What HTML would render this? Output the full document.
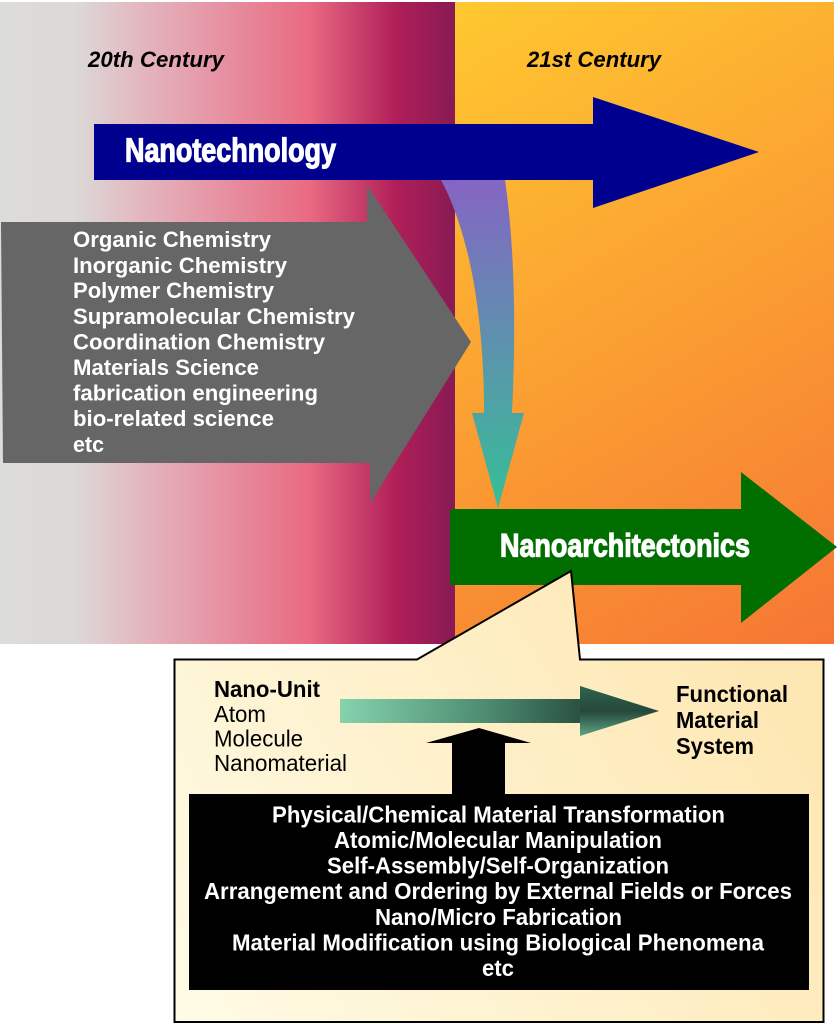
<!DOCTYPE html>
<html><head><meta charset="utf-8"><style>html,body{margin:0;padding:0;background:#fff}svg{display:block}text{font-family:"Liberation Sans",Arial,sans-serif}</style></head>
<body>
<svg width="840" height="1024" viewBox="0 0 840 1024" xmlns="http://www.w3.org/2000/svg">
<defs>
<linearGradient id="l" x1="0" x2="1" y1="0" y2="0">
<stop offset="0" stop-color="#dcdcd8"/><stop offset=".165" stop-color="#dcd9d7"/><stop offset=".33" stop-color="#e4b2bc"/><stop offset=".68" stop-color="#e96a82"/><stop offset=".87" stop-color="#b01f58"/><stop offset="1" stop-color="#881a54"/>
</linearGradient>
<linearGradient id="r" gradientUnits="userSpaceOnUse" x1="455" y1="2" x2="834" y2="644">
<stop offset="0" stop-color="#ffc830"/><stop offset="1" stop-color="#f67634"/>
</linearGradient>
<linearGradient id="c" gradientUnits="userSpaceOnUse" x1="480" y1="180" x2="498" y2="508">
<stop offset="0" stop-color="#8565c4"/><stop offset="1" stop-color="#35bf96"/>
</linearGradient>
<linearGradient id="y" gradientUnits="userSpaceOnUse" x1="174" y1="1022" x2="824" y2="600">
<stop offset="0" stop-color="#fffbe6"/><stop offset="1" stop-color="#fde5ad"/>
</linearGradient>
<linearGradient id="t" gradientUnits="userSpaceOnUse" x1="340" y1="700" x2="640" y2="715">
<stop offset="0" stop-color="#86d3ae"/><stop offset=".5" stop-color="#4b8a6f"/><stop offset=".85" stop-color="#25483b"/><stop offset="1" stop-color="#2a5546"/>
</linearGradient>
<linearGradient id="th" gradientUnits="userSpaceOnUse" x1="600" y1="686" x2="600" y2="736">
<stop offset="0" stop-color="#2d6450"/><stop offset=".5" stop-color="#25483b"/><stop offset="1" stop-color="#5fa488"/>
</linearGradient>
</defs>
<rect x="0" y="2" width="455" height="642" fill="url(#l)"/>
<rect x="455" y="2" width="379" height="642" fill="url(#r)"/>
<path d="M441 180C465 225 484 300 484 413H472L498 508L524 413H512C516 330 515 250 505 180Z" fill="url(#c)"/>
<path d="M94 124H593V97L759 152L593 208V180H94Z" fill="#00008f"/>
<path d="M1 222H367V185L471 342L370 503V463H3Z" fill="#666"/>
<path d="M450 509H741V472L837 547L741 623V585H450Z" fill="#006f00"/>
<path d="M174.500 659.500H417L571 571L580 659.500H823.500V1022H174.500Z" fill="url(#y)" stroke="#000" stroke-width="2"/>
<path d="M340 699H581V723H340Z" fill="url(#t)"/>
<path d="M580 686L659 711L580 736Z" fill="url(#th)"/>
<path d="M452 795V743H426L479 728L531 743H505V795Z" fill="#000"/>
<rect x="189" y="794" width="620" height="196" fill="#000"/>

<g font-size="22.500" font-weight="bold" font-style="italic" fill="#000">
<text x="88" y="67" textLength="136" lengthAdjust="spacingAndGlyphs">20th Century</text>
<text x="527" y="67" textLength="134" lengthAdjust="spacingAndGlyphs">21st Century</text>
</g>

<g font-weight="bold" fill="#fff" stroke="#fff" stroke-width="1.200">
<text x="125" y="161.500" font-size="33" textLength="211" lengthAdjust="spacingAndGlyphs">Nanotechnology</text>
<text x="500" y="556.500" font-size="32" textLength="250" lengthAdjust="spacingAndGlyphs">Nanoarchitectonics</text>
</g>

<g font-size="22" font-weight="bold" fill="#fff">
<text x="73" y="247" textLength="198" lengthAdjust="spacingAndGlyphs">Organic Chemistry</text>
<text x="73" y="273" textLength="214" lengthAdjust="spacingAndGlyphs">Inorganic Chemistry</text>
<text x="73" y="298" textLength="201" lengthAdjust="spacingAndGlyphs">Polymer Chemistry</text>
<text x="73" y="324" textLength="282" lengthAdjust="spacingAndGlyphs">Supramolecular Chemistry</text>
<text x="73" y="349.500" textLength="252" lengthAdjust="spacingAndGlyphs">Coordination Chemistry</text>
<text x="73" y="375" textLength="186" lengthAdjust="spacingAndGlyphs">Materials Science</text>
<text x="73" y="400.500" textLength="245" lengthAdjust="spacingAndGlyphs">fabrication engineering</text>
<text x="73" y="426" textLength="201" lengthAdjust="spacingAndGlyphs">bio-related science</text>
<text x="73" y="452" textLength="31" lengthAdjust="spacingAndGlyphs">etc</text>
</g>

<g font-size="23" fill="#000">
<text x="214" y="697" font-weight="bold" textLength="106" lengthAdjust="spacingAndGlyphs">Nano-Unit</text>
<text x="214" y="722" textLength="52" lengthAdjust="spacingAndGlyphs">Atom</text>
<text x="214" y="746.500" textLength="89" lengthAdjust="spacingAndGlyphs">Molecule</text>
<text x="214" y="771" textLength="133" lengthAdjust="spacingAndGlyphs">Nanomaterial</text>
<g font-weight="bold">
<text x="676" y="702" textLength="112" lengthAdjust="spacingAndGlyphs">Functional</text>
<text x="676" y="728" textLength="83" lengthAdjust="spacingAndGlyphs">Material</text>
<text x="676" y="754" textLength="78" lengthAdjust="spacingAndGlyphs">System</text>
</g>
</g>

<g font-size="23" font-weight="bold" fill="#fff">
<text x="272" y="822.500" textLength="453" lengthAdjust="spacingAndGlyphs">Physical/Chemical Material Transformation</text>
<text x="334" y="848" textLength="328" lengthAdjust="spacingAndGlyphs">Atomic/Molecular Manipulation</text>
<text x="327" y="873.500" textLength="342" lengthAdjust="spacingAndGlyphs">Self-Assembly/Self-Organization</text>
<text x="204" y="899" textLength="588" lengthAdjust="spacingAndGlyphs">Arrangement and Ordering by External Fields or Forces</text>
<text x="375" y="925" textLength="247" lengthAdjust="spacingAndGlyphs">Nano/Micro Fabrication</text>
<text x="232" y="950.500" textLength="532" lengthAdjust="spacingAndGlyphs">Material Modification using Biological Phenomena</text>
<text x="482" y="976" textLength="32" lengthAdjust="spacingAndGlyphs">etc</text>
</g>
</svg>
</body></html>
